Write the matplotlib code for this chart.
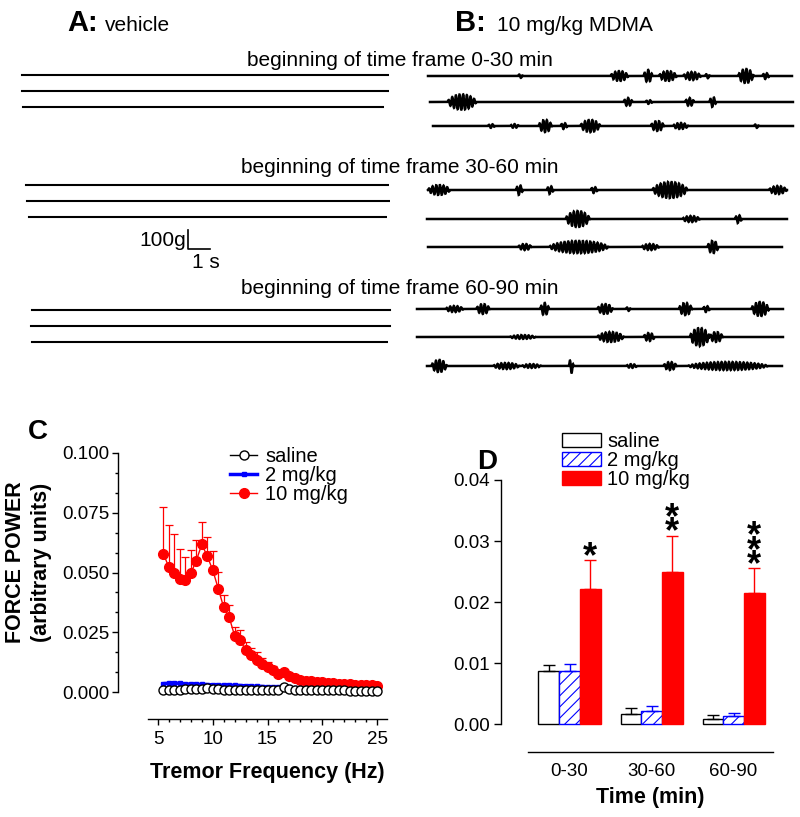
import numpy as np
import matplotlib.pyplot as plt
from matplotlib.ticker import FixedLocator, FormatStrFormatter

plt.rcParams['font.family'] = ['Liberation Sans', 'DejaVu Sans']
plt.rcParams['hatch.linewidth'] = 0.8

W, H = 800, 817

# ---- panel A/B: force traces ----
# vehicle traces are flat; MDMA traces: (start s, end s, amplitude g) of each tremor burst
vehicle_bursts = [[] for _ in range(9)]
mdma_bursts = [
    # 0-30 min
    [(4.1, 4.3, 10), (8.3, 9.1, 26), (9.8, 10.2, 32), (10.5, 11.3, 26), (11.6, 12.4, 21),
     (12.6, 12.8, 12), (14.1, 14.8, 37), (15.2, 15.5, 16)],
    [(0.8, 2.1, 40), (8.8, 9.2, 21), (9.8, 10.1, 10), (11.6, 12.0, 21), (12.7, 13.0, 26)],
    [(2.5, 2.8, 10), (3.5, 3.9, 10), (4.8, 5.4, 32), (5.8, 6.1, 16), (6.7, 7.6, 32),
     (9.9, 10.5, 26), (10.9, 11.6, 16), (14.6, 14.8, 10)],
    # 30-60 min
    [(0.0, 1.0, 26), (4.0, 4.3, 26), (5.4, 5.7, 21), (7.4, 7.7, 16), (10.2, 11.8, 42),
     (15.5, 16.3, 21)],
    [(6.3, 7.4, 42), (11.6, 12.4, 16), (14.0, 14.3, 21)],
    [(4.1, 4.7, 16), (5.5, 8.2, 32), (9.7, 10.5, 16), (12.7, 13.2, 32)],
    # 60-90 min
    [(1.3, 2.1, 16), (2.7, 3.3, 26), (5.6, 6.0, 32), (8.2, 8.9, 26), (9.5, 9.7, 10),
     (11.9, 12.5, 32), (13.0, 13.3, 16), (15.2, 16.0, 37)],
    [(4.2, 5.4, 10), (8.2, 9.4, 26), (10.3, 10.8, 21), (12.4, 13.3, 47), (13.3, 13.9, 26)],
    [(0.2, 0.9, 32), (3.0, 4.2, 16), (4.3, 5.2, 10), (6.45, 6.65, 37), (9.05, 9.55, 10),
     (10.75, 11.35, 21), (11.85, 15.5, 21)],
]
frame_titles = ['beginning of time frame 0-30 min',
                'beginning of time frame 30-60 min',
                'beginning of time frame 60-90 min']

# ---- panel C: power spectrum ----
freq = np.arange(5.5, 25.01, 0.5)
saline_pow = [0.0010, 0.0008, 0.0008, 0.0010, 0.0011, 0.0012, 0.0013, 0.0013, 0.0016, 0.0013,
              0.0011, 0.0010, 0.0010, 0.0010, 0.0010, 0.0009, 0.0008, 0.0008, 0.0008, 0.0008,
              0.0008, 0.0009, 0.0022, 0.0014, 0.0010, 0.0009, 0.0008, 0.0008, 0.0009, 0.0008,
              0.0007, 0.0007, 0.0007, 0.0007, 0.0006, 0.0006, 0.0006, 0.0006, 0.0006, 0.0005]
mdma2_pow = [0.0035, 0.0037, 0.0038, 0.0036, 0.0034, 0.0033, 0.0032, 0.0032, 0.0031, 0.0030,
             0.0029, 0.0028, 0.0028, 0.0028, 0.0027, 0.0026, 0.0025, 0.0024, 0.0023, 0.0022,
             0.0021, 0.0020, 0.0021, 0.0019, 0.0017, 0.0015, 0.0014, 0.0013, 0.0012, 0.0011,
             0.0010, 0.0009, 0.0008, 0.0007, 0.0006, 0.0005, 0.0004, 0.0003, 0.0002, 0.0001]
mdma10_pow = [0.0577, 0.0522, 0.0500, 0.0472, 0.0467, 0.0497, 0.0550, 0.0618, 0.0568, 0.0510,
              0.0433, 0.0354, 0.0313, 0.0235, 0.0216, 0.0177, 0.0156, 0.0135, 0.0118, 0.0104,
              0.0091, 0.0075, 0.0082, 0.0068, 0.0058, 0.0052, 0.0047, 0.0045, 0.0042, 0.0040,
              0.0038, 0.0036, 0.0035, 0.0033, 0.0032, 0.0031, 0.0029, 0.0028, 0.0028, 0.0026]
mdma10_err = [0.0196, 0.0176, 0.0160, 0.0128, 0.0097, 0.0098, 0.0086, 0.0094, 0.0080, 0.0081,
              0.0070, 0.0053, 0.0052, 0.0037, 0.0045, 0.0031, 0.0028, 0.0032, 0.0025, 0.0022,
              0.0018, 0.0015, 0.0013, 0.0012, 0.0010, 0.0009, 0.0008, 0.0007, 0.0007, 0.0006,
              0.0006, 0.0006, 0.0005, 0.0005, 0.0005, 0.0004, 0.0004, 0.0004, 0.0004, 0.0004]

# ---- panel D: power per time frame ----
time_frames = ['0-30', '30-60', '60-90']
saline_bar = [0.0087, 0.0017, 0.0009]
saline_bar_err = [0.0010, 0.0009, 0.0005]
mdma2_bar = [0.0087, 0.0021, 0.0013]
mdma2_bar_err = [0.0011, 0.0008, 0.0005]
mdma10_bar = [0.0221, 0.0250, 0.0214]
mdma10_bar_err = [0.0048, 0.0059, 0.0041]
n_stars = [1, 2, 3]


def fx(x):
    return x / W


def fy(y):
    return 1 - y / H


fig = plt.figure(figsize=(8, 8.17), dpi=100)

# traces drawn on a full-figure axes in pixel units
ax_tr = fig.add_axes([0, 0, 1, 1])
ax_tr.set_xlim(0, W)
ax_tr.set_ylim(H, 0)
ax_tr.axis('off')

PX_PER_S = 22.0
PX_PER_G = 0.19
TREMOR_HZ = 6.0
FS = 400.0


def make_trace(bursts, length_s):
    t = np.arange(0, length_s, 1 / FS)
    sig = np.zeros_like(t)
    for t0, t1, amp in bursts:
        m = (t >= t0) & (t <= t1)
        u = (t[m] - t0) / (t1 - t0)
        sig[m] += amp * np.sin(np.pi * u) ** 0.6 * np.sin(2 * np.pi * TREMOR_HZ * (t[m] - t0))
    return t, sig


# (x start px, baseline y px, length px)
vehicle_pos = [(22, 75, 366), (22, 91, 366), (23, 107, 360),
               (26, 185, 362), (27, 201, 362), (29, 217, 357),
               (32, 310, 358), (31, 326, 359), (32, 342, 355)]
mdma_pos = [(428, 76, 364), (430, 102, 363), (433, 126, 360),
            (428, 190, 359), (427, 219, 360), (428, 247, 354),
            (417, 309, 366), (417, 337, 366), (427, 366, 355)]

for bursts, (x0, y0, L) in zip(vehicle_bursts, vehicle_pos):
    t, sig = make_trace(bursts, L / PX_PER_S)
    ax_tr.plot(x0 + t * PX_PER_S, y0 - sig * PX_PER_G, color='black', lw=1.5)
for bursts, (x0, y0, L) in zip(mdma_bursts, mdma_pos):
    t, sig = make_trace(bursts, L / PX_PER_S)
    ax_tr.plot(x0 + t * PX_PER_S, y0 - sig * PX_PER_G, color='black', lw=1.8,
               solid_joinstyle='miter')

# scale bar: 100 g / 1 s
sb_x, sb_y = 188, 249
ax_tr.plot([sb_x, sb_x, sb_x + 1 * PX_PER_S], [sb_y - 100 * PX_PER_G, sb_y, sb_y],
           color='black', lw=1.2)
ax_tr.text(sb_x - 2, 240, '100g', fontsize=15, ha='right', va='center')
ax_tr.text(sb_x + 18, 262, '1 s', fontsize=15, ha='center', va='center')

for title, y in zip(frame_titles, [60, 167, 289]):
    ax_tr.text(400, y, title, fontsize=15, ha='center', va='center')

ax_tr.text(67, 31, 'A:', fontsize=21, fontweight='bold', ha='left', va='baseline')
ax_tr.text(105, 31, 'vehicle', fontsize=15, ha='left', va='baseline')
ax_tr.text(455, 31, 'B:', fontsize=21, fontweight='bold', ha='left', va='baseline')
ax_tr.text(497, 31, '10 mg/kg MDMA', fontsize=15, ha='left', va='baseline')

# ---------------- panel C ----------------
axC = fig.add_axes([fx(118), fy(719), 270 / W, 266 / H])
axC.set_xlim(1.35, 26.0)
axC.set_ylim(-0.01129, 0.1)
for s in ['top', 'right']:
    axC.spines[s].set_visible(False)
axC.spines['left'].set_bounds(0, 0.1)
axC.spines['bottom'].set_bounds(4.1, 25.9)
for s in ['left', 'bottom']:
    axC.spines[s].set_linewidth(1.0)

axC.plot(freq, mdma2_pow, color='blue', lw=2.5, marker='s', ms=3.5, zorder=2, label='2 mg/kg')
axC.errorbar(freq, mdma10_pow, yerr=[np.zeros(len(freq)), mdma10_err], fmt='none',
             ecolor='red', elinewidth=0.9, capsize=3, capthick=0.9, zorder=3)
axC.plot(freq, mdma10_pow, color='red', lw=1, marker='o', ms=7, zorder=3, label='10 mg/kg')
axC.plot(freq, saline_pow, color='black', lw=1, marker='o', ms=6.5, mfc='white', mew=1,
         zorder=4, label='saline')

axC.set_xticks([5, 10, 15, 20, 25])
axC.xaxis.set_minor_locator(FixedLocator(range(5, 26)))
axC.set_yticks([0, 0.025, 0.05, 0.075, 0.1])
axC.yaxis.set_minor_locator(FixedLocator(np.arange(0, 0.1001, 0.025 / 3)))
axC.yaxis.set_major_formatter(FormatStrFormatter('%.3f'))
axC.tick_params(which='major', length=4, width=1, labelsize=13.5)
axC.tick_params(which='minor', length=2.3, width=1)
axC.tick_params(axis='x', which='major', pad=5)
axC.tick_params(axis='y', which='major', pad=2)

axC.text(0.552, -0.203, 'Tremor Frequency (Hz)', transform=axC.transAxes,
         fontsize=15.5, fontweight='bold', ha='center', va='center')
fig.text(fx(16), fy(562), 'FORCE POWER', rotation=90, fontsize=15.5, fontweight='bold',
         ha='center', va='center')
fig.text(fx(42), fy(562), '(arbitrary units)', rotation=90, fontsize=15.5, fontweight='bold',
         ha='center', va='center')
fig.text(fx(38), fy(432), 'C', fontsize=20, fontweight='bold', ha='center', va='center')

h, l = axC.get_legend_handles_labels()
order = [2, 0, 1]
axC.legend([h[i] for i in order], [l[i] for i in order], loc='upper left',
           bbox_to_anchor=(fx(230), fy(447)), bbox_transform=fig.transFigure,
           frameon=False, fontsize=14.5, borderpad=0, borderaxespad=0,
           handlelength=1.35, handletextpad=0.4, labelspacing=0.0)

# ---------------- panel D ----------------
axD = fig.add_axes([fx(501), fy(752), 272 / W, 272 / H])
axD.set_xlim(-0.835, 2.48)
axD.set_ylim(-0.00459, 0.04)
for s in ['top', 'right']:
    axD.spines[s].set_visible(False)
axD.spines['left'].set_bounds(0, 0.04)
axD.spines['bottom'].set_bounds(-0.506, 2.48)
for s in ['left', 'bottom']:
    axD.spines[s].set_linewidth(1.0)

x = np.arange(len(time_frames))
bw = 0.252
b1 = axD.bar(x - bw, saline_bar, bw, color='white', edgecolor='black', lw=1, label='saline')
b2 = axD.bar(x, mdma2_bar, bw, color='white', edgecolor='blue', lw=1, hatch='///',
             label='2 mg/kg')
b3 = axD.bar(x + bw, mdma10_bar, bw, color='red', edgecolor='red', lw=1, label='10 mg/kg')
zeros = np.zeros(len(x))
axD.errorbar(x - bw, saline_bar, yerr=[zeros, saline_bar_err], fmt='none', ecolor='black',
             elinewidth=1, capsize=4, capthick=1)
axD.errorbar(x, mdma2_bar, yerr=[zeros, mdma2_bar_err], fmt='none', ecolor='blue',
             elinewidth=1, capsize=4, capthick=1)
axD.errorbar(x + bw, mdma10_bar, yerr=[zeros, mdma10_bar_err], fmt='none', ecolor='red',
             elinewidth=1, capsize=4, capthick=1)

# significance stars, one stacked text per time frame
for xi, top, n in zip(x + bw, np.array(mdma10_bar) + np.array(mdma10_bar_err), n_stars):
    axD.annotate('\n'.join(['*'] * n), (xi, top), xytext=(0, -10.8),
                 textcoords='offset points', fontsize=26, fontweight='bold',
                 ha='center', va='bottom', linespacing=0.24)

axD.set_xticks(x)
axD.set_xticklabels(time_frames)
axD.set_yticks([0, 0.01, 0.02, 0.03, 0.04])
axD.yaxis.set_major_formatter(FormatStrFormatter('%.2f'))
axD.tick_params(axis='x', length=0, pad=8, labelsize=13.5)
axD.tick_params(axis='y', length=5, width=1, pad=3, labelsize=13.5)
axD.text(0.548, -0.169, 'Time (min)', transform=axD.transAxes, fontsize=15.5,
         fontweight='bold', ha='center', va='center')
fig.text(fx(487), fy(462), 'D', fontsize=20, fontweight='bold', ha='center', va='center')

axD.legend([b1, b2, b3], ['saline', '2 mg/kg', '10 mg/kg'], loc='upper left',
           bbox_to_anchor=(fx(562), fy(432)), bbox_transform=fig.transFigure,
           frameon=False, fontsize=14.5, borderpad=0, borderaxespad=0,
           handlelength=1.95, handleheight=0.65, handletextpad=0.3, labelspacing=0.0)

fig.savefig('out.png', dpi=100)
